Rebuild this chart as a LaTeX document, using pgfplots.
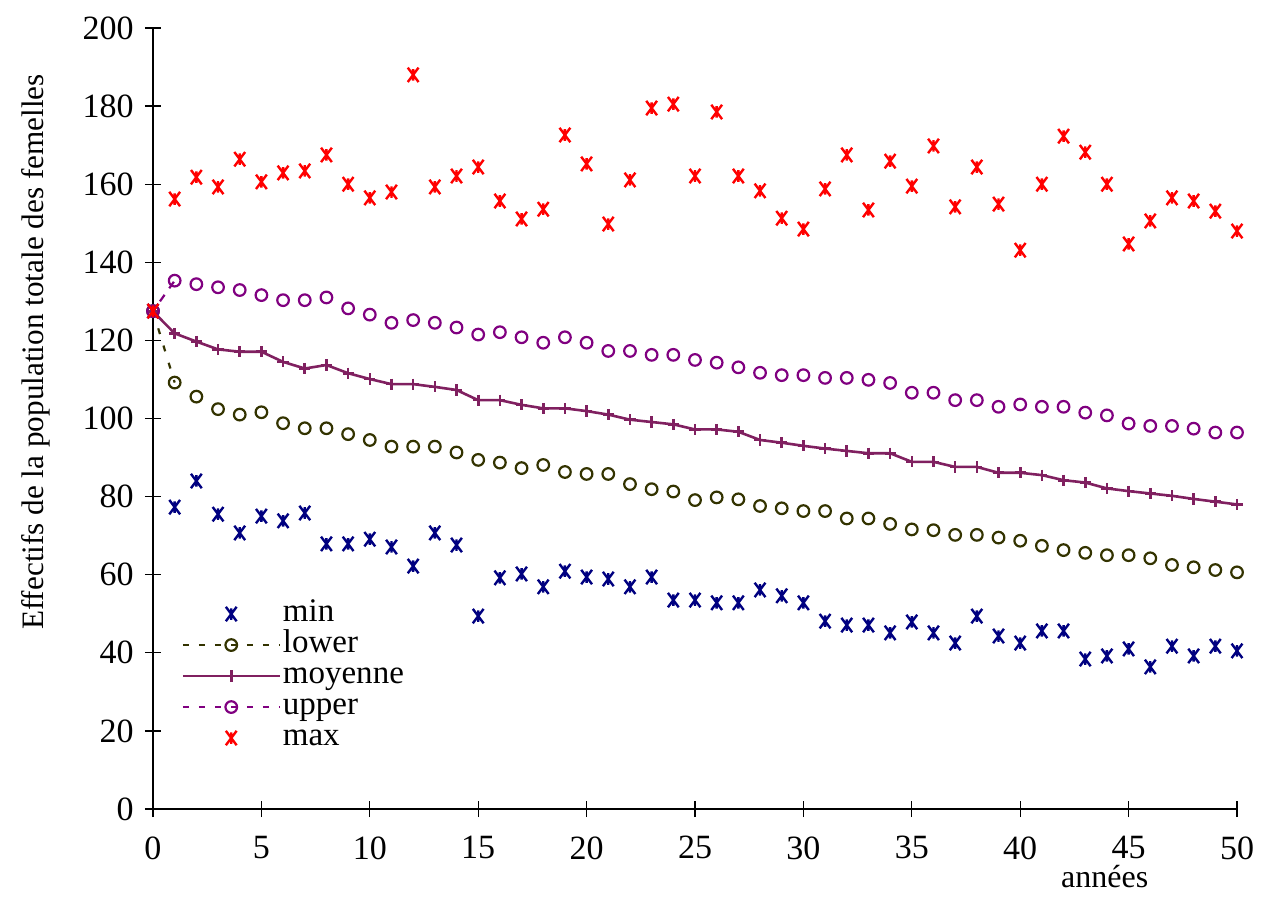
\documentclass[border=0pt]{standalone}
\usepackage{fontspec}
\setmainfont{Liberation Serif}
\usepackage{pgfplots}
\pgfplotsset{compat=1.18}

\definecolor{cmin}{RGB}{0,0,128}
\definecolor{clower}{RGB}{51,51,0}
\definecolor{cmoy}{RGB}{128,32,96}
\definecolor{cupper}{RGB}{128,0,128}
\definecolor{cmax}{RGB}{255,0,0}

% cross with a vertical bar, used for the extreme values
\pgfdeclareplotmark{xbar}{%
  \pgfpathmoveto{\pgfqpoint{-0.75\pgfplotmarksize}{-\pgfplotmarksize}}%
  \pgfpathlineto{\pgfqpoint{0.75\pgfplotmarksize}{\pgfplotmarksize}}%
  \pgfpathmoveto{\pgfqpoint{-0.75\pgfplotmarksize}{\pgfplotmarksize}}%
  \pgfpathlineto{\pgfqpoint{0.75\pgfplotmarksize}{-\pgfplotmarksize}}%
  \pgfpathmoveto{\pgfqpoint{0pt}{-0.8\pgfplotmarksize}}%
  \pgfpathlineto{\pgfqpoint{0pt}{0.8\pgfplotmarksize}}%
  \pgfusepathqstroke}

% legend pictograms
\pgfplotsset{
  leg mark/.style={legend image code/.code={\draw[##1] plot coordinates {(0.85cm,0cm)};}},
  leg dashmark/.style={legend image code/.code={
    \draw[#1, line width=1.1pt, dash pattern=on 3pt off 5pt] (0cm,0cm) -- (1.7cm,0cm);
    \draw[##1] plot coordinates {(0.85cm,0cm)};}},
  leg linemark/.style={legend image code/.code={
    \draw[##1, mark repeat=2, mark phase=2] plot coordinates {(0cm,0cm) (0.85cm,0cm) (1.7cm,0cm)};}},
}

\begin{document}
\fontsize{16.5}{19.8}\selectfont
\begin{tikzpicture}
\begin{axis}[
  width=542pt, height=390.5pt, scale only axis,
  xmin=0, xmax=50, ymin=0, ymax=200,
  xtick={0,5,...,50}, ytick={0,20,...,200},
  axis x line*=bottom, axis y line*=left,
  axis line style={line width=0.6pt, -},
  tick style={black, line width=0.6pt},
  tick align=center, major tick length=8pt,
  /pgf/number format/assume math mode=true,
  ticklabel style={font=\fontsize{17}{20}\selectfont},
  xticklabel style={yshift=-4pt},
  ylabel={Effectifs de la population totale des femelles},
  ylabel style={font=\fontsize{15.6}{18.7}\selectfont, at={(rel axis cs:-0.108,0.585)}, anchor=center},
  clip=false,
  legend style={draw=none, fill=none, at={(rel axis cs:0.026,0.27)}, anchor=north west,
    font=\fontsize{16.5}{19.8}\selectfont, row sep=0pt, inner sep=0pt,
    nodes={text height=11.5pt, text depth=4pt, inner sep=0pt, inner xsep=1pt}},
  legend cell align=left,
]

% minimum of the simulations
\addplot[only marks, mark=xbar, mark size=3.6pt, color=cmin, line width=1.2pt, leg mark]
coordinates {
(0,127.5)(1,77.3)(2,84.0)(3,75.5)(4,70.7)(5,75.0)(6,73.8)(7,75.8)(8,67.9)(9,67.9)(10,69.1)
(11,67.1)(12,62.2)(13,70.7)(14,67.6)(15,49.4)(16,59.2)(17,60.2)(18,56.9)(19,60.9)(20,59.4)
(21,58.9)(22,56.9)(23,59.4)(24,53.5)(25,53.5)(26,52.8)(27,52.8)(28,56.1)(29,54.6)(30,52.8)
(31,48.1)(32,47.1)(33,47.1)(34,45.1)(35,47.9)(36,45.1)(37,42.5)(38,49.4)(39,44.3)(40,42.5)
(41,45.6)(42,45.6)(43,38.4)(44,39.2)(45,41.0)(46,36.4)(47,41.7)(48,39.2)(49,41.7)(50,40.5)};
\addlegendentry{min}

% lower bound
\addplot[only marks, mark=o, mark size=2.9pt, color=clower, line width=1.1pt, leg dashmark=clower]
coordinates {
(0,127.5)(1,109.2)(2,105.6)(3,102.4)(4,101.0)(5,101.6)(6,98.8)(7,97.5)(8,97.5)(9,96.0)(10,94.5)
(11,92.8)(12,92.8)(13,92.8)(14,91.3)(15,89.4)(16,88.7)(17,87.3)(18,88.1)(19,86.3)(20,85.8)
(21,85.8)(22,83.2)(23,81.9)(24,81.3)(25,79.1)(26,79.8)(27,79.3)(28,77.6)(29,77.0)(30,76.3)
(31,76.3)(32,74.4)(33,74.4)(34,73.0)(35,71.6)(36,71.4)(37,70.2)(38,70.2)(39,69.5)(40,68.7)
(41,67.4)(42,66.3)(43,65.6)(44,65.0)(45,65.0)(46,64.2)(47,62.5)(48,61.9)(49,61.2)(50,60.6)};
\addlegendentry{lower}

% mean trajectory
\addplot[mark=+, mark size=2.8pt, color=cmoy, line width=1.3pt, leg linemark]
coordinates {
(0,127.4)(1,121.8)(2,119.7)(3,117.7)(4,117.1)(5,117.1)(6,114.5)(7,112.8)(8,113.7)(9,111.6)(10,110.1)
(11,108.8)(12,108.8)(13,108.1)(14,107.3)(15,104.7)(16,104.7)(17,103.5)(18,102.6)(19,102.6)(20,101.9)
(21,101.0)(22,99.7)(23,99.1)(24,98.5)(25,97.2)(26,97.2)(27,96.6)(28,94.5)(29,93.8)(30,93.0)
(31,92.3)(32,91.7)(33,91.1)(34,91.1)(35,88.9)(36,88.9)(37,87.6)(38,87.6)(39,86.1)(40,86.1)
(41,85.5)(42,84.2)(43,83.6)(44,82.1)(45,81.4)(46,80.8)(47,80.2)(48,79.4)(49,78.7)(50,78.0)};
\addlegendentry{moyenne}

% upper bound
\addplot[only marks, mark=o, mark size=2.9pt, color=cupper, line width=1.1pt, leg dashmark=cupper]
coordinates {
(0,127.5)(1,135.3)(2,134.4)(3,133.6)(4,132.9)(5,131.6)(6,130.3)(7,130.3)(8,131.0)(9,128.2)(10,126.6)
(11,124.5)(12,125.2)(13,124.5)(14,123.3)(15,121.5)(16,122.1)(17,120.8)(18,119.4)(19,120.8)(20,119.4)
(21,117.3)(22,117.3)(23,116.3)(24,116.3)(25,115.0)(26,114.3)(27,113.1)(28,111.7)(29,111.1)(30,111.1)
(31,110.4)(32,110.4)(33,109.9)(34,109.1)(35,106.6)(36,106.6)(37,104.7)(38,104.7)(39,103.0)(40,103.6)
(41,103.0)(42,103.0)(43,101.5)(44,100.8)(45,98.7)(46,98.1)(47,98.1)(48,97.4)(49,96.4)(50,96.4)};
\addlegendentry{upper}

% first dashed segments of the bounds
\addplot[forget plot, clower, line width=1.1pt, dash pattern=on 3pt off 6pt] coordinates {(0,127.5)(1,109.2)};
\addplot[forget plot, cupper, line width=1.1pt, dash pattern=on 4pt off 4pt, dash phase=2pt] coordinates {(0,127.5)(1,135.3)};

% maximum of the simulations
\addplot[only marks, mark=xbar, mark size=3.6pt, color=cmax, line width=1.2pt, leg mark]
coordinates {
(0,127.5)(1,156.2)(2,161.8)(3,159.3)(4,166.4)(5,160.6)(6,162.9)(7,163.4)(8,167.5)(9,160.0)(10,156.5)
(11,158.0)(12,188.0)(13,159.3)(14,162.1)(15,164.4)(16,155.7)(17,151.1)(18,153.6)(19,172.6)(20,165.2)
(21,149.8)(22,161.1)(23,179.5)(24,180.5)(25,162.1)(26,178.5)(27,162.1)(28,158.3)(29,151.3)(30,148.5)
(31,158.8)(32,167.5)(33,153.4)(34,165.9)(35,159.5)(36,169.8)(37,154.2)(38,164.4)(39,154.9)(40,143.1)
(41,160.0)(42,172.3)(43,168.2)(44,160.0)(45,144.7)(46,150.6)(47,156.5)(48,155.7)(49,153.1)(50,148.0)};
\addlegendentry{max}

\node[anchor=base, font=\fontsize{16}{19}\selectfont] at (axis cs:43.9,-20.2) {années};

% margins around the axis
\path (rel axis cs:0,0) ++(-76.5pt,-43pt);
\path (rel axis cs:1,1) ++(15.5pt,14pt);
\end{axis}
\end{tikzpicture}
\end{document}
